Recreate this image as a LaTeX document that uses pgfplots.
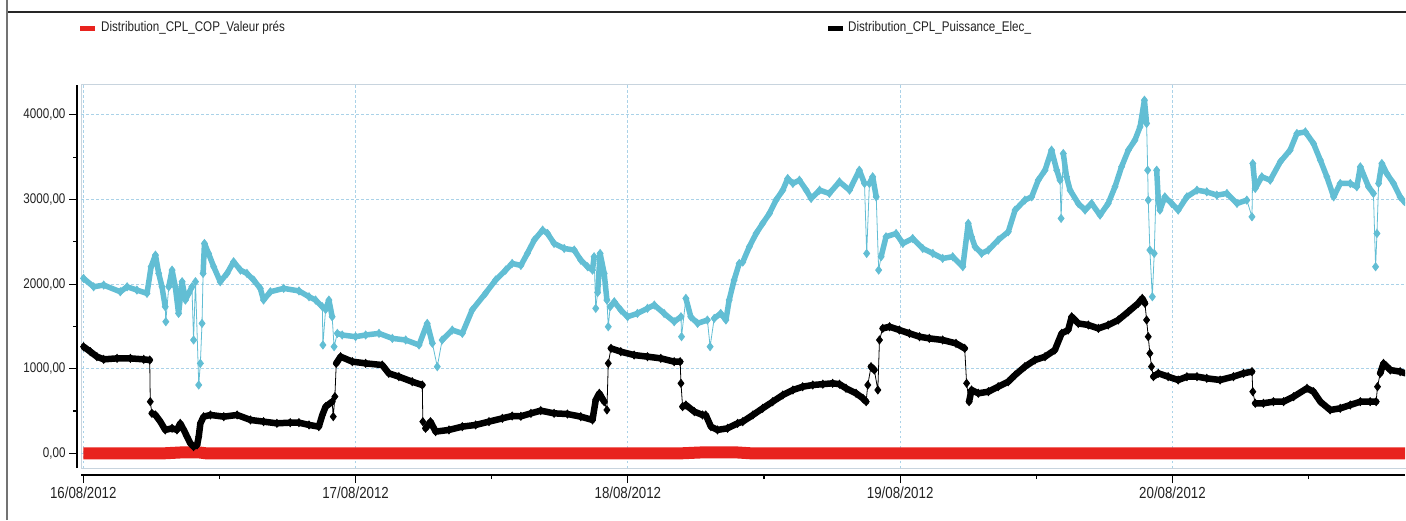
\documentclass[border=0pt]{standalone}
\usepackage{fontspec}
\setmainfont[FakeStretch=0.83]{Liberation Sans}
\usepackage{pgfplots}
\usepackage{pgfplotstable}
\pgfplotsset{compat=1.18}
\definecolor{cyanc}{RGB}{98,190,212}
\definecolor{redc}{RGB}{232,35,30}
\definecolor{gridc}{RGB}{170,210,232}
\definecolor{boxc}{RGB}{200,212,222}
\definecolor{txtc}{RGB}{34,34,34}

\pgfplotstableread{
x y t
0.000 0 0
0.300 0 0
0.360 10 10
0.420 12 12
0.450 0 0
2.200 0 0
2.270 10 10
2.400 10 10
2.450 0 0
4.860 0 0
}\reddata

\pgfplotstableread{
x y t
0.001 1260 1260
0.026 1201 1201
0.050 1142 1142
0.075 1110 1110
0.124 1122 1122
0.173 1122 1122
0.222 1110 1110
0.244 1102 1102
0.246 610 nan
0.252 472 472
0.265 453 453
0.283 374 374
0.301 276 276
0.326 295 295
0.344 276 276
0.356 354 354
0.369 276 276
0.381 197 197
0.393 118 118
0.405 79 79
0.418 98 98
0.424 197 197
0.430 354 354
0.442 433 433
0.467 453 453
0.516 433 433
0.565 453 453
0.614 394 394
0.662 374 374
0.711 354 354
0.760 362 362
0.792 362 362
0.829 335 335
0.865 315 315
0.878 453 453
0.890 551 551
0.914 610 610
0.918 433 nan
0.924 670 nan
0.929 1063 1063
0.945 1142 1142
0.988 1083 1083
1.037 1063 1063
1.098 1043 1043
1.122 945 945
1.159 906 906
1.208 846 846
1.245 807 807
1.247 374 nan
1.257 295 295
1.275 374 374
1.294 256 256
1.343 276 276
1.392 315 315
1.441 335 335
1.490 374 374
1.539 413 413
1.575 441 441
1.607 437 437
1.644 472 472
1.680 504 504
1.729 472 472
1.778 464 464
1.827 433 433
1.870 394 394
1.882 630 630
1.895 709 709
1.913 610 610
1.923 512 nan
1.928 1063 nan
1.938 1240 1240
1.974 1201 1201
2.023 1161 1161
2.072 1142 1142
2.121 1122 1122
2.170 1083 1083
2.192 1083 1083
2.195 827 nan
2.201 551 551
2.213 571 571
2.244 492 492
2.274 453 453
2.286 453 453
2.305 315 315
2.329 276 276
2.366 295 295
2.403 354 354
2.422 374 374
2.459 453 453
2.495 531 531
2.532 610 610
2.569 689 689
2.606 748 748
2.642 787 787
2.679 807 807
2.716 817 817
2.752 827 827
2.777 817 817
2.801 768 768
2.838 709 709
2.863 650 650
2.875 610 610
2.881 807 nan
2.893 1024 1024
2.905 984 984
2.918 748 nan
2.924 1339 nan
2.936 1476 1476
2.961 1496 1496
2.997 1457 1457
3.034 1417 1417
3.071 1378 1378
3.107 1358 1358
3.156 1339 1339
3.205 1299 1299
3.237 1240 1240
3.244 827 nan
3.253 610 610
3.262 748 748
3.287 709 709
3.324 728 728
3.360 787 787
3.397 846 846
3.422 925 925
3.458 1024 1024
3.495 1102 1102
3.532 1142 1142
3.568 1220 1220
3.593 1417 1417
3.617 1457 1457
3.630 1614 1614
3.654 1535 1535
3.691 1516 1516
3.728 1476 1476
3.764 1516 1516
3.801 1575 1575
3.838 1673 1673
3.874 1772 1772
3.889 1831 1831
3.899 1772 1772
3.905 1575 nan
3.911 1378 nan
3.917 1181 nan
3.923 1024 nan
3.930 906 906
3.948 945 945
3.984 906 906
4.021 866 866
4.053 905 905
4.090 906 906
4.126 886 886
4.175 866 866
4.224 906 906
4.261 945 945
4.292 965 965
4.295 728 nan
4.304 591 591
4.334 591 591
4.371 610 610
4.408 610 610
4.445 669 669
4.494 768 768
4.518 728 728
4.543 610 610
4.579 512 512
4.616 531 531
4.653 571 571
4.690 610 610
4.726 610 610
4.748 610 610
4.753 787 nan
4.763 945 945
4.775 1063 1063
4.800 984 984
4.836 965 965
4.856 945 945
}\blackdata

\pgfplotstableread{
x y t
0.001 2067 2067
0.038 1968 1968
0.075 1988 1988
0.136 1909 1909
0.161 1968 1968
0.197 1929 1929
0.234 1890 1890
0.249 2205 2205
0.265 2342 2342
0.277 2126 2126
0.289 1968 1968
0.301 1732 1732
0.303 1555 nan
0.314 1968 1968
0.326 2165 2165
0.338 1968 1968
0.350 1653 1653
0.363 2028 2028
0.375 1811 1811
0.387 1890 1890
0.399 1968 1968
0.405 1339 nan
0.412 2028 2028
0.424 807 nan
0.430 1063 nan
0.436 1535 nan
0.440 2126 2126
0.445 2480 2480
0.460 2362 2362
0.479 2205 2205
0.503 2028 2028
0.528 2126 2126
0.552 2264 2264
0.577 2165 2165
0.601 2126 2126
0.626 2047 2047
0.650 1949 1949
0.662 1811 1811
0.687 1909 1909
0.736 1949 1949
0.792 1919 1919
0.829 1850 1850
0.853 1811 1811
0.878 1732 1732
0.880 1280 nan
0.890 1700 1700
0.902 1811 1811
0.914 1614 1614
0.921 1260 nan
0.933 1417 1417
0.951 1398 1398
1.000 1378 1378
1.037 1398 1398
1.086 1417 1417
1.135 1358 1358
1.184 1339 1339
1.233 1280 1280
1.263 1535 1535
1.282 1300 1300
1.300 1024 nan
1.318 1339 1339
1.355 1457 1457
1.392 1417 1417
1.428 1693 1693
1.477 1890 1890
1.514 2047 2047
1.551 2165 2165
1.575 2244 2244
1.607 2220 2220
1.631 2362 2362
1.656 2520 2520
1.687 2638 2638
1.705 2598 2598
1.729 2480 2480
1.766 2421 2421
1.803 2402 2402
1.827 2283 2283
1.852 2205 2205
1.870 2165 2165
1.876 2323 2323
1.882 1713 nan
1.889 1900 1900
1.898 2362 2362
1.913 2126 2126
1.923 1811 1811
1.928 1496 nan
1.935 1732 1732
1.950 1791 1791
1.974 1693 1693
1.999 1614 1614
2.035 1653 1653
2.072 1713 1713
2.097 1752 1752
2.133 1653 1653
2.170 1555 1555
2.195 1614 1614
2.197 1378 nan
2.213 1831 1831
2.231 1614 1614
2.256 1535 1535
2.292 1575 1575
2.302 1260 nan
2.317 1594 1594
2.341 1653 1653
2.360 1575 1575
2.372 1811 1811
2.390 2047 2047
2.409 2244 2244
2.422 2260 2260
2.446 2441 2441
2.471 2598 2598
2.495 2717 2717
2.520 2835 2835
2.544 2992 2992
2.569 3110 3110
2.587 3248 3248
2.606 3189 3189
2.630 3228 3228
2.655 3110 3110
2.673 3012 3012
2.704 3110 3110
2.740 3071 3071
2.777 3209 3209
2.814 3110 3110
2.850 3346 3346
2.869 3189 3189
2.877 2362 nan
2.887 3189 3189
2.899 3268 3268
2.912 3031 3031
2.921 2165 nan
2.930 2323 2323
2.948 2559 2559
2.985 2598 2598
3.010 2480 2480
3.046 2539 2539
3.083 2421 2421
3.120 2362 2362
3.156 2303 2303
3.193 2323 2323
3.230 2205 2205
3.250 2717 2717
3.262 2559 2559
3.275 2441 2441
3.299 2362 2362
3.324 2402 2402
3.360 2520 2520
3.397 2618 2618
3.422 2874 2874
3.458 2992 2992
3.483 3031 3031
3.507 3228 3228
3.532 3346 3346
3.556 3583 3583
3.575 3346 3346
3.587 3228 3228
3.591 2776 nan
3.599 3543 3543
3.611 3268 3268
3.624 3110 3110
3.654 2953 2953
3.679 2874 2874
3.703 2953 2953
3.734 2815 2815
3.764 2953 2953
3.789 3150 3150
3.813 3386 3386
3.838 3583 3583
3.862 3701 3701
3.881 3858 3858
3.897 4173 4173
3.905 3898 3898
3.909 3346 nan
3.911 2992 nan
3.917 2402 nan
3.926 1850 nan
3.933 2362 nan
3.942 3346 3346
3.948 2992 2992
3.954 2874 2874
3.972 3031 3031
3.997 2953 2953
4.021 2874 2874
4.053 3031 3031
4.090 3110 3110
4.126 3090 3090
4.163 3051 3051
4.200 3071 3071
4.237 2953 2953
4.273 2992 2992
4.292 2795 nan
4.295 3425 3425
4.304 3130 3130
4.328 3268 3268
4.359 3228 3228
4.396 3445 3445
4.432 3583 3583
4.457 3780 3780
4.488 3799 3799
4.518 3661 3661
4.543 3465 3465
4.567 3268 3268
4.592 3031 3031
4.616 3189 3189
4.653 3189 3189
4.677 3150 3150
4.690 3386 3386
4.720 3150 3150
4.738 3071 3071
4.746 2205 nan
4.751 2598 nan
4.757 3189 3189
4.769 3425 3425
4.787 3307 3307
4.812 3189 3189
4.836 3031 3031
4.856 2953 2953
}\cyandata

\begin{document}
\begin{tikzpicture}[x=1pt,y=1pt]
\useasboundingbox (0,0) rectangle (1406,520);
\fill[white] (0,0) rectangle (1406,520);
\draw[line width=2pt, black!85] (7,508) -- (1406,508);
\draw[line width=2pt, black!55] (7,0) -- (7,520);
\draw[boxc, line width=1pt] (1406,435) -- (81,435) -- (81,52) -- (1406,52);
\begin{axis}[
  at={(81pt,52pt)}, anchor=south west,
  scale only axis, width=1324pt, height=383pt,
  xmin=-0.0084, xmax=4.854, ymin=-174, ymax=4353,
  axis x line=bottom, axis y line=left,
  axis x line shift=7pt, axis y line shift=4pt,
  axis line style={-, black, line width=1.3pt},
  xtick={0,1,2,3,4},
  xticklabels={16/08/2012,17/08/2012,18/08/2012,19/08/2012,20/08/2012},
  minor xtick={0.5,1.5,2.5,3.5,4.5},
  ytick={0,1000,2000,3000,4000},
  yticklabels={{0,00},{1000,00},{2000,00},{3000,00},{4000,00}},
  minor ytick={500,1500,2500,3500},
  tick align=outside, major tick length=8pt, minor tick length=4pt,
  every tick/.style={black, line width=1.1pt},
  xmajorgrids, ymajorgrids,
  major grid style={gridc, dash pattern=on 2.5pt off 2.5pt, line width=0.8pt},
  yticklabel style={font=\fontsize{14}{16}\selectfont, text=txtc},
  xticklabel style={font=\fontsize{16}{18}\selectfont, text=txtc},
]
\addplot[redc, line width=12pt, line cap=butt, no marks] table[x=x,y=y] {\reddata};
\addplot[black, line width=6.5pt, line join=round, line cap=round, no marks, unbounded coords=jump] table[x=x,y=t] {\blackdata};
\addplot[black, line width=0.8pt, mark=diamond*, mark size=4pt, unbounded coords=discard] table[x=x,y=y] {\blackdata};
\addplot[cyanc, line width=5.5pt, line join=round, line cap=round, no marks, unbounded coords=jump] table[x=x,y=t] {\cyandata};
\addplot[cyanc, line width=0.8pt, mark=diamond*, mark size=4pt, unbounded coords=discard] table[x=x,y=y] {\cyandata};
\end{axis}
\draw[redc, line width=5pt] (80,491) -- (95,491);
\node[anchor=west, inner sep=0pt, text=txtc, font=\fontsize{14}{16}\selectfont] at (101,492) {Distribution\_CPL\_COP\_Valeur prés};
\draw[black, line width=5pt] (828,491) -- (843,491);
\node[anchor=west, inner sep=0pt, text=txtc, font=\fontsize{14}{16}\selectfont] at (848,492) {Distribution\_CPL\_Puissance\_Elec\_};
\end{tikzpicture}
\end{document}
